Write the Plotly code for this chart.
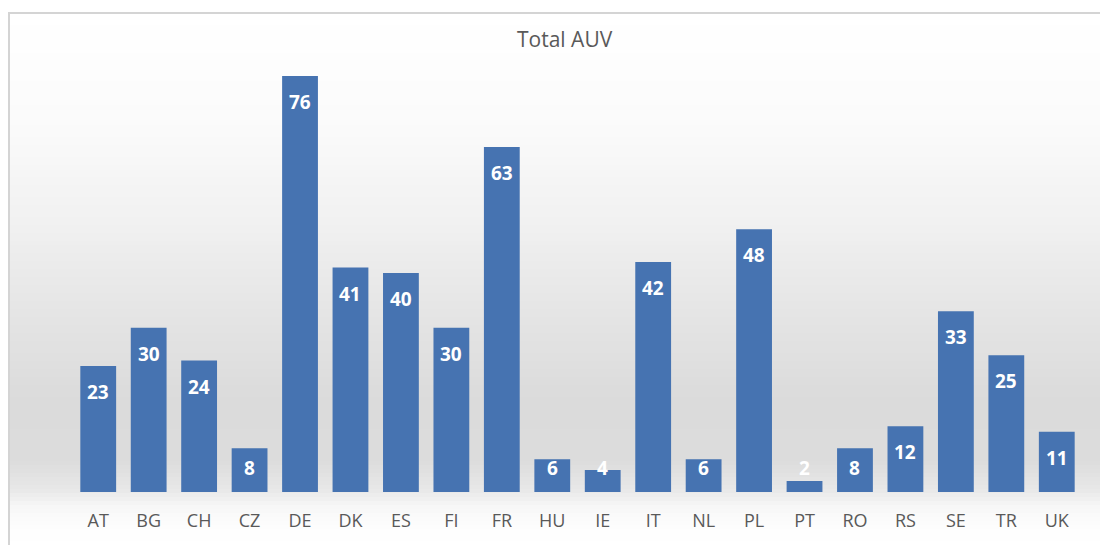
import plotly.graph_objects as go

countries = ["AT", "BG", "CH", "CZ", "DE", "DK", "ES", "FI", "FR", "HU",
             "IE", "IT", "NL", "PL", "PT", "RO", "RS", "SE", "TR", "UK"]
auv = [23, 30, 24, 8, 76, 41, 40, 30, 63, 6, 4, 42, 6, 48, 2, 8, 12, 33, 25, 11]
title_text = "Total AUV"

W, H = 1100, 545
ML, MR, MT, MB = 73, 18, 54, 53
PW, PH = W - ML - MR, H - MT - MB
YMAX = 80

def px_to_paper_x(px):
    return (px - ML) / PW

def px_to_paper_y(py):
    return (H - MB - py) / PH

fig = go.Figure()
fig.add_trace(go.Bar(
    x=countries, y=auv,
    marker=dict(color="#4673b1", line=dict(width=0)),
    hoverinfo="x+y",
))

# data labels (inside end; short bars get a fixed height above the base)
px_per_unit = PH / YMAX
annotations = []
for c, v in zip(countries, auv):
    if v * px_per_unit - 26 >= 24:
        y, shift = v, -26
    else:
        y, shift = 0, 24
    annotations.append(dict(
        x=c, y=y, yshift=shift, text=str(v), showarrow=False,
        xref="x", yref="y", yanchor="middle",
        font=dict(family="Open Sans", size=19, color="white", weight="bold"),
    ))

# background gradient (bands) inside chart frame
stops = [(13, 255), (120, 251), (220, 241), (320, 228), (400, 219),
         (460, 220), (490, 232), (505, 246), (525, 253), (545, 255)]
shapes = []
band = 4
y = 13
while y < 545:
    yc = y + band / 2
    for (a, ca), (b, cb) in zip(stops[:-1], stops[1:]):
        if a <= yc <= b:
            t = (yc - a) / (b - a)
            g = int(round(ca + (cb - ca) * t))
            break
    else:
        g = 255
    shapes.append(dict(
        type="rect", xref="paper", yref="paper", layer="below",
        x0=px_to_paper_x(10), x1=px_to_paper_x(1100),
        y0=px_to_paper_y(min(y + band, 545)), y1=px_to_paper_y(y),
        fillcolor=f"rgb({g},{g},{g})", line=dict(width=0),
    ))
    y += band

# chart frame border
shapes.append(dict(
    type="rect", xref="paper", yref="paper", layer="below",
    x0=px_to_paper_x(9), x1=px_to_paper_x(1105),
    y0=px_to_paper_y(550), y1=px_to_paper_y(13),
    fillcolor="rgba(0,0,0,0)", line=dict(color="#d4d4d4", width=2),
))

annotations.append(dict(
    x=px_to_paper_x(565), y=px_to_paper_y(39), xref="paper", yref="paper",
    text=title_text, showarrow=False, xanchor="center", yanchor="middle",
    font=dict(family="Open Sans", size=21, color="#595959"),
))

fig.update_layout(
    width=W, height=H,
    margin=dict(l=ML, r=MR, t=MT, b=MB, pad=0),
    paper_bgcolor="white", plot_bgcolor="rgba(0,0,0,0)",
    bargap=0.29,
    showlegend=False,
    shapes=shapes,
    annotations=annotations,
    xaxis=dict(
        showgrid=False, zeroline=False, showline=False, ticks="",
        tickfont=dict(family="Open Sans", size=18, color="#595959"),
        ticklabelstandoff=16,
    ),
    yaxis=dict(
        range=[0, YMAX], showgrid=False, zeroline=False, showline=False,
        showticklabels=False, ticks="",
    ),
)

fig.write_html(
    "out.html",
    config={"displayModeBar": False},
    post_script="document.body.style.margin='0';document.body.style.overflow='hidden';",
)
